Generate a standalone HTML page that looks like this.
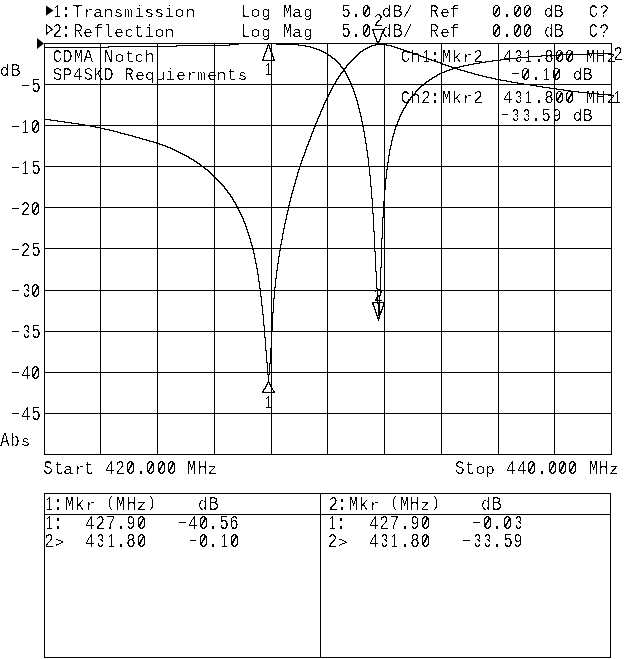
<!DOCTYPE html>
<html><head><meta charset="utf-8"><title>CDMA Notch - Transmission / Reflection</title>
<style>
html,body{margin:0;padding:0;background:#fff;width:640px;height:659px;overflow:hidden}
svg{display:block}
text{font-family:"Liberation Mono",monospace;fill:#000;white-space:pre;stroke:#000;stroke-width:0.1px}
</style></head><body>
<svg width="640" height="659" viewBox="0 0 640 659">
<defs><filter id="crisp" x="0" y="0" width="640" height="659" filterUnits="userSpaceOnUse" color-interpolation-filters="sRGB"><feColorMatrix type="matrix" values="0 0 0 0 0  0 0 0 0 0  0 0 0 0 0  -1 0 0 1 0"/><feComponentTransfer><feFuncA type="discrete" tableValues="0 0 0 0 0 0 0 0 0 0 0 0 0 1 1 1 1 1 1 1"/></feComponentTransfer></filter></defs>
<rect width="640" height="659" fill="#fff"/>
<path d="M44.5 43V455M100.5 43V455M157.5 43V455M214.5 43V455M271.5 43V455M327.5 43V455M384.5 43V455M441.5 43V455M498.5 43V455M554.5 43V455M611.5 43V455M44 43.5H612M44 84.5H612M44 125.5H612M44 166.5H612M44 207.5H612M44 248.5H612M44 290.5H612M44 331.5H612M44 372.5H612M44 413.5H612M44 454.5H612M44 493.5H611M44 514.5H611M44 657.5H611M44.5 493V658M610.5 493V658M320.5 493V658" stroke="#000" stroke-width="1" fill="none" shape-rendering="crispEdges"/>
<path d="M238 43h39v1h-39zM229 44h10v1h-10zM276 44h23v1h-23zM375 44h12v1h-12zM176 45h54v1h-54zM298 45h8v1h-8zM371 45h5v1h-5zM386 45h6v1h-6zM108 46h69v1h-69zM305 46h6v1h-6zM369 46h3v1h-3zM391 46h4v1h-4zM44 47h65v1h-65zM310 47h4v1h-4zM367 47h3v1h-3zM394 47h4v1h-4zM313 48h4v1h-4zM365 48h3v1h-3zM397 48h4v1h-4zM316 49h4v1h-4zM363 49h3v1h-3zM400 49h4v1h-4zM319 50h3v1h-3zM362 50h2v1h-2zM403 50h4v1h-4zM321 51h3v1h-3zM360 51h3v1h-3zM406 51h4v1h-4zM323 52h3v1h-3zM359 52h2v1h-2zM409 52h4v1h-4zM325 53h3v1h-3zM358 53h2v1h-2zM412 53h4v1h-4zM588 53h24v1h-24zM327 54h2v1h-2zM357 54h2v1h-2zM415 54h4v1h-4zM558 54h31v1h-31zM328 55h3v1h-3zM356 55h2v1h-2zM418 55h3v1h-3zM541 55h18v1h-18zM330 56h2v1h-2zM355 56h2v1h-2zM420 56h4v1h-4zM528 56h14v1h-14zM331 57h2v1h-2zM354 57h2v1h-2zM423 57h4v1h-4zM517 57h12v1h-12zM332 58h3v1h-3zM353 58h2v1h-2zM426 58h3v1h-3zM508 58h10v1h-10zM334 59h2v1h-2zM352 59h2v1h-2zM428 59h4v1h-4zM500 59h9v1h-9zM335 60h2v1h-2zM351 60h2v1h-2zM431 60h4v1h-4zM492 60h9v1h-9zM336 61h2v1h-2zM350 61h2v1h-2zM434 61h4v1h-4zM485 61h8v1h-8zM337 62h2v1h-2zM349 62h2v1h-2zM437 62h4v1h-4zM479 62h7v1h-7zM338 63h2v1h-2zM348 63h2v1h-2zM440 63h3v1h-3zM473 63h7v1h-7zM339 64h2v1h-2zM347 64h2v1h-2zM442 64h4v1h-4zM468 64h6v1h-6zM340 65h1v1h-1zM346 65h2v1h-2zM445 65h4v1h-4zM463 65h6v1h-6zM340 66h2v1h-2zM346 66h1v1h-1zM448 66h4v1h-4zM459 66h5v1h-5zM341 67h2v1h-2zM345 67h2v1h-2zM451 67h9v1h-9zM342 68h4v1h-4zM452 68h6v1h-6zM343 69h2v1h-2zM449 69h4v1h-4zM457 69h4v1h-4zM343 70h2v1h-2zM446 70h4v1h-4zM460 70h5v1h-5zM342 71h4v1h-4zM444 71h3v1h-3zM464 71h4v1h-4zM341 72h2v1h-2zM345 72h1v1h-1zM441 72h4v1h-4zM467 72h5v1h-5zM340 73h2v1h-2zM345 73h2v1h-2zM439 73h3v1h-3zM471 73h4v1h-4zM340 74h1v1h-1zM346 74h1v1h-1zM437 74h3v1h-3zM474 74h5v1h-5zM339 75h2v1h-2zM346 75h2v1h-2zM436 75h2v1h-2zM478 75h5v1h-5zM338 76h2v1h-2zM347 76h1v1h-1zM434 76h3v1h-3zM482 76h5v1h-5zM338 77h1v1h-1zM347 77h2v1h-2zM432 77h3v1h-3zM486 77h6v1h-6zM337 78h2v1h-2zM348 78h1v1h-1zM431 78h2v1h-2zM491 78h5v1h-5zM336 79h2v1h-2zM348 79h2v1h-2zM429 79h3v1h-3zM495 79h6v1h-6zM336 80h1v1h-1zM349 80h1v1h-1zM428 80h2v1h-2zM500 80h7v1h-7zM335 81h2v1h-2zM349 81h2v1h-2zM426 81h3v1h-3zM506 81h6v1h-6zM335 82h1v1h-1zM350 82h1v1h-1zM425 82h2v1h-2zM511 82h7v1h-7zM334 83h2v1h-2zM350 83h2v1h-2zM424 83h2v1h-2zM517 83h7v1h-7zM333 84h2v1h-2zM351 84h1v1h-1zM423 84h2v1h-2zM523 84h8v1h-8zM333 85h1v1h-1zM351 85h1v1h-1zM421 85h3v1h-3zM530 85h7v1h-7zM332 86h2v1h-2zM351 86h2v1h-2zM420 86h2v1h-2zM536 86h7v1h-7zM332 87h1v1h-1zM352 87h1v1h-1zM419 87h2v1h-2zM542 87h8v1h-8zM331 88h2v1h-2zM352 88h2v1h-2zM418 88h2v1h-2zM549 88h8v1h-8zM331 89h1v1h-1zM353 89h1v1h-1zM417 89h2v1h-2zM556 89h8v1h-8zM330 90h2v1h-2zM353 90h1v1h-1zM416 90h2v1h-2zM563 90h8v1h-8zM330 91h1v1h-1zM353 91h2v1h-2zM415 91h2v1h-2zM570 91h9v1h-9zM329 92h2v1h-2zM354 92h1v1h-1zM415 92h1v1h-1zM578 92h10v1h-10zM329 93h1v1h-1zM354 93h1v1h-1zM414 93h2v1h-2zM587 93h12v1h-12zM328 94h2v1h-2zM354 94h2v1h-2zM413 94h2v1h-2zM598 94h13v1h-13zM328 95h1v1h-1zM355 95h1v1h-1zM412 95h2v1h-2zM610 95h2v1h-2zM327 96h2v1h-2zM355 96h1v1h-1zM411 96h2v1h-2zM327 97h1v1h-1zM355 97h2v1h-2zM410 97h2v1h-2zM326 98h2v1h-2zM356 98h1v1h-1zM410 98h1v1h-1zM326 99h1v1h-1zM356 99h1v1h-1zM409 99h2v1h-2zM325 100h2v1h-2zM356 100h2v1h-2zM408 100h2v1h-2zM325 101h1v1h-1zM357 101h1v1h-1zM408 101h1v1h-1zM324 102h2v1h-2zM357 102h1v1h-1zM407 102h2v1h-2zM324 103h1v1h-1zM357 103h1v1h-1zM406 103h2v1h-2zM323 104h2v1h-2zM357 104h2v1h-2zM406 104h1v1h-1zM323 105h1v1h-1zM358 105h1v1h-1zM405 105h2v1h-2zM323 106h1v1h-1zM358 106h1v1h-1zM405 106h1v1h-1zM322 107h2v1h-2zM358 107h1v1h-1zM404 107h2v1h-2zM322 108h1v1h-1zM358 108h2v1h-2zM403 108h2v1h-2zM321 109h2v1h-2zM359 109h1v1h-1zM403 109h1v1h-1zM321 110h1v1h-1zM359 110h1v1h-1zM402 110h2v1h-2zM320 111h2v1h-2zM359 111h1v1h-1zM402 111h1v1h-1zM320 112h1v1h-1zM359 112h2v1h-2zM401 112h2v1h-2zM320 113h1v1h-1zM360 113h1v1h-1zM401 113h1v1h-1zM319 114h2v1h-2zM360 114h1v1h-1zM400 114h2v1h-2zM319 115h1v1h-1zM360 115h1v1h-1zM400 115h1v1h-1zM318 116h2v1h-2zM360 116h2v1h-2zM399 116h2v1h-2zM318 117h1v1h-1zM361 117h1v1h-1zM399 117h1v1h-1zM317 118h2v1h-2zM361 118h1v1h-1zM399 118h1v1h-1zM44 119h7v1h-7zM317 119h1v1h-1zM361 119h1v1h-1zM398 119h2v1h-2zM50 120h8v1h-8zM317 120h1v1h-1zM361 120h1v1h-1zM398 120h1v1h-1zM57 121h8v1h-8zM316 121h2v1h-2zM361 121h2v1h-2zM397 121h2v1h-2zM64 122h8v1h-8zM316 122h1v1h-1zM362 122h1v1h-1zM397 122h1v1h-1zM71 123h8v1h-8zM315 123h2v1h-2zM362 123h1v1h-1zM397 123h1v1h-1zM78 124h7v1h-7zM315 124h1v1h-1zM362 124h1v1h-1zM396 124h2v1h-2zM84 125h7v1h-7zM315 125h1v1h-1zM362 125h1v1h-1zM396 125h1v1h-1zM90 126h6v1h-6zM314 126h2v1h-2zM362 126h2v1h-2zM395 126h2v1h-2zM95 127h6v1h-6zM314 127h1v1h-1zM363 127h1v1h-1zM395 127h1v1h-1zM100 128h5v1h-5zM313 128h2v1h-2zM363 128h1v1h-1zM395 128h1v1h-1zM104 129h6v1h-6zM313 129h1v1h-1zM363 129h1v1h-1zM394 129h2v1h-2zM109 130h5v1h-5zM313 130h1v1h-1zM363 130h1v1h-1zM394 130h1v1h-1zM113 131h5v1h-5zM312 131h2v1h-2zM363 131h2v1h-2zM394 131h1v1h-1zM117 132h4v1h-4zM312 132h1v1h-1zM364 132h1v1h-1zM394 132h1v1h-1zM120 133h5v1h-5zM311 133h2v1h-2zM364 133h1v1h-1zM393 133h2v1h-2zM124 134h5v1h-5zM311 134h1v1h-1zM364 134h1v1h-1zM393 134h1v1h-1zM128 135h5v1h-5zM311 135h1v1h-1zM364 135h1v1h-1zM393 135h1v1h-1zM132 136h4v1h-4zM310 136h2v1h-2zM364 136h1v1h-1zM392 136h2v1h-2zM135 137h5v1h-5zM310 137h1v1h-1zM364 137h2v1h-2zM392 137h1v1h-1zM139 138h4v1h-4zM310 138h1v1h-1zM365 138h1v1h-1zM392 138h1v1h-1zM142 139h5v1h-5zM309 139h2v1h-2zM365 139h1v1h-1zM392 139h1v1h-1zM146 140h4v1h-4zM309 140h1v1h-1zM365 140h1v1h-1zM391 140h2v1h-2zM149 141h5v1h-5zM308 141h2v1h-2zM365 141h1v1h-1zM391 141h1v1h-1zM153 142h4v1h-4zM308 142h1v1h-1zM365 142h1v1h-1zM391 142h1v1h-1zM156 143h4v1h-4zM308 143h1v1h-1zM365 143h2v1h-2zM391 143h1v1h-1zM159 144h4v1h-4zM307 144h2v1h-2zM366 144h1v1h-1zM391 144h1v1h-1zM162 145h4v1h-4zM307 145h1v1h-1zM366 145h1v1h-1zM390 145h2v1h-2zM165 146h3v1h-3zM306 146h2v1h-2zM366 146h1v1h-1zM390 146h1v1h-1zM167 147h4v1h-4zM306 147h1v1h-1zM366 147h1v1h-1zM390 147h1v1h-1zM170 148h3v1h-3zM306 148h1v1h-1zM366 148h1v1h-1zM390 148h1v1h-1zM172 149h3v1h-3zM305 149h2v1h-2zM366 149h1v1h-1zM389 149h2v1h-2zM174 150h3v1h-3zM305 150h1v1h-1zM366 150h2v1h-2zM389 150h1v1h-1zM176 151h3v1h-3zM305 151h1v1h-1zM367 151h1v1h-1zM389 151h1v1h-1zM178 152h3v1h-3zM304 152h2v1h-2zM367 152h1v1h-1zM389 152h1v1h-1zM180 153h3v1h-3zM304 153h1v1h-1zM367 153h1v1h-1zM389 153h1v1h-1zM182 154h3v1h-3zM304 154h1v1h-1zM367 154h1v1h-1zM389 154h1v1h-1zM184 155h3v1h-3zM303 155h2v1h-2zM367 155h1v1h-1zM388 155h2v1h-2zM186 156h3v1h-3zM303 156h1v1h-1zM367 156h1v1h-1zM388 156h1v1h-1zM188 157h2v1h-2zM302 157h2v1h-2zM367 157h2v1h-2zM388 157h1v1h-1zM189 158h3v1h-3zM302 158h1v1h-1zM368 158h1v1h-1zM388 158h1v1h-1zM191 159h3v1h-3zM302 159h1v1h-1zM368 159h1v1h-1zM388 159h1v1h-1zM193 160h2v1h-2zM301 160h2v1h-2zM368 160h1v1h-1zM388 160h1v1h-1zM194 161h3v1h-3zM301 161h1v1h-1zM368 161h1v1h-1zM388 161h1v1h-1zM196 162h2v1h-2zM301 162h1v1h-1zM368 162h1v1h-1zM387 162h2v1h-2zM197 163h3v1h-3zM300 163h2v1h-2zM368 163h1v1h-1zM387 163h1v1h-1zM199 164h2v1h-2zM300 164h1v1h-1zM368 164h1v1h-1zM387 164h1v1h-1zM200 165h2v1h-2zM300 165h1v1h-1zM368 165h1v1h-1zM387 165h1v1h-1zM201 166h3v1h-3zM299 166h2v1h-2zM368 166h2v1h-2zM387 166h1v1h-1zM203 167h2v1h-2zM299 167h1v1h-1zM369 167h1v1h-1zM387 167h1v1h-1zM204 168h2v1h-2zM299 168h1v1h-1zM369 168h1v1h-1zM387 168h1v1h-1zM205 169h3v1h-3zM298 169h2v1h-2zM369 169h1v1h-1zM386 169h2v1h-2zM207 170h2v1h-2zM298 170h1v1h-1zM369 170h1v1h-1zM386 170h1v1h-1zM208 171h2v1h-2zM298 171h1v1h-1zM369 171h1v1h-1zM386 171h1v1h-1zM209 172h2v1h-2zM297 172h2v1h-2zM369 172h1v1h-1zM386 172h1v1h-1zM210 173h2v1h-2zM297 173h1v1h-1zM369 173h1v1h-1zM386 173h1v1h-1zM211 174h2v1h-2zM297 174h1v1h-1zM369 174h1v1h-1zM386 174h1v1h-1zM212 175h2v1h-2zM297 175h1v1h-1zM369 175h2v1h-2zM386 175h1v1h-1zM213 176h2v1h-2zM296 176h2v1h-2zM370 176h1v1h-1zM386 176h1v1h-1zM214 177h2v1h-2zM296 177h1v1h-1zM370 177h1v1h-1zM386 177h1v1h-1zM215 178h2v1h-2zM296 178h1v1h-1zM370 178h1v1h-1zM385 178h2v1h-2zM216 179h2v1h-2zM295 179h2v1h-2zM370 179h1v1h-1zM385 179h1v1h-1zM217 180h2v1h-2zM295 180h1v1h-1zM370 180h1v1h-1zM385 180h1v1h-1zM218 181h2v1h-2zM295 181h1v1h-1zM370 181h1v1h-1zM385 181h1v1h-1zM219 182h2v1h-2zM295 182h1v1h-1zM370 182h1v1h-1zM385 182h1v1h-1zM220 183h2v1h-2zM294 183h2v1h-2zM370 183h1v1h-1zM385 183h1v1h-1zM221 184h2v1h-2zM294 184h1v1h-1zM370 184h1v1h-1zM385 184h1v1h-1zM222 185h2v1h-2zM294 185h1v1h-1zM370 185h1v1h-1zM385 185h1v1h-1zM223 186h2v1h-2zM293 186h2v1h-2zM370 186h2v1h-2zM385 186h1v1h-1zM224 187h1v1h-1zM293 187h1v1h-1zM371 187h1v1h-1zM385 187h1v1h-1zM224 188h2v1h-2zM293 188h1v1h-1zM371 188h1v1h-1zM385 188h1v1h-1zM225 189h2v1h-2zM293 189h1v1h-1zM371 189h1v1h-1zM384 189h2v1h-2zM226 190h2v1h-2zM292 190h2v1h-2zM371 190h1v1h-1zM384 190h1v1h-1zM227 191h1v1h-1zM292 191h1v1h-1zM371 191h1v1h-1zM384 191h1v1h-1zM227 192h2v1h-2zM292 192h1v1h-1zM371 192h1v1h-1zM384 192h1v1h-1zM228 193h2v1h-2zM291 193h2v1h-2zM371 193h1v1h-1zM384 193h1v1h-1zM229 194h2v1h-2zM291 194h1v1h-1zM371 194h1v1h-1zM384 194h1v1h-1zM230 195h1v1h-1zM291 195h1v1h-1zM371 195h1v1h-1zM384 195h1v1h-1zM230 196h2v1h-2zM291 196h1v1h-1zM371 196h1v1h-1zM384 196h1v1h-1zM231 197h2v1h-2zM290 197h2v1h-2zM371 197h1v1h-1zM384 197h1v1h-1zM232 198h1v1h-1zM290 198h1v1h-1zM371 198h2v1h-2zM384 198h1v1h-1zM232 199h2v1h-2zM290 199h1v1h-1zM372 199h1v1h-1zM384 199h1v1h-1zM233 200h1v1h-1zM290 200h1v1h-1zM372 200h1v1h-1zM384 200h1v1h-1zM233 201h2v1h-2zM289 201h2v1h-2zM372 201h1v1h-1zM383 201h2v1h-2zM234 202h2v1h-2zM289 202h1v1h-1zM372 202h1v1h-1zM383 202h1v1h-1zM235 203h1v1h-1zM289 203h1v1h-1zM372 203h1v1h-1zM383 203h1v1h-1zM235 204h2v1h-2zM289 204h1v1h-1zM372 204h1v1h-1zM383 204h1v1h-1zM236 205h1v1h-1zM288 205h2v1h-2zM372 205h1v1h-1zM383 205h1v1h-1zM236 206h2v1h-2zM288 206h1v1h-1zM372 206h1v1h-1zM383 206h1v1h-1zM237 207h1v1h-1zM288 207h1v1h-1zM372 207h1v1h-1zM383 207h1v1h-1zM237 208h2v1h-2zM288 208h1v1h-1zM372 208h1v1h-1zM383 208h1v1h-1zM238 209h1v1h-1zM288 209h1v1h-1zM372 209h1v1h-1zM383 209h1v1h-1zM238 210h2v1h-2zM287 210h2v1h-2zM372 210h1v1h-1zM383 210h1v1h-1zM239 211h1v1h-1zM287 211h1v1h-1zM372 211h1v1h-1zM383 211h1v1h-1zM239 212h2v1h-2zM287 212h1v1h-1zM372 212h1v1h-1zM383 212h1v1h-1zM240 213h1v1h-1zM287 213h1v1h-1zM372 213h2v1h-2zM383 213h1v1h-1zM240 214h2v1h-2zM286 214h2v1h-2zM373 214h1v1h-1zM383 214h1v1h-1zM241 215h1v1h-1zM286 215h1v1h-1zM373 215h1v1h-1zM383 215h1v1h-1zM241 216h2v1h-2zM286 216h1v1h-1zM373 216h1v1h-1zM383 216h1v1h-1zM242 217h1v1h-1zM286 217h1v1h-1zM373 217h1v1h-1zM382 217h2v1h-2zM242 218h2v1h-2zM286 218h1v1h-1zM373 218h1v1h-1zM382 218h1v1h-1zM243 219h1v1h-1zM285 219h2v1h-2zM373 219h1v1h-1zM382 219h1v1h-1zM243 220h1v1h-1zM285 220h1v1h-1zM373 220h1v1h-1zM382 220h1v1h-1zM243 221h2v1h-2zM285 221h1v1h-1zM373 221h1v1h-1zM382 221h1v1h-1zM244 222h1v1h-1zM285 222h1v1h-1zM373 222h1v1h-1zM382 222h1v1h-1zM244 223h2v1h-2zM284 223h2v1h-2zM373 223h1v1h-1zM382 223h1v1h-1zM245 224h1v1h-1zM284 224h1v1h-1zM373 224h1v1h-1zM382 224h1v1h-1zM245 225h1v1h-1zM284 225h1v1h-1zM373 225h1v1h-1zM382 225h1v1h-1zM245 226h2v1h-2zM284 226h1v1h-1zM373 226h1v1h-1zM382 226h1v1h-1zM246 227h1v1h-1zM284 227h1v1h-1zM373 227h1v1h-1zM382 227h1v1h-1zM246 228h1v1h-1zM283 228h2v1h-2zM373 228h1v1h-1zM382 228h1v1h-1zM246 229h2v1h-2zM283 229h1v1h-1zM373 229h1v1h-1zM382 229h1v1h-1zM247 230h1v1h-1zM283 230h1v1h-1zM373 230h1v1h-1zM382 230h1v1h-1zM247 231h1v1h-1zM283 231h1v1h-1zM373 231h2v1h-2zM382 231h1v1h-1zM247 232h2v1h-2zM283 232h1v1h-1zM374 232h1v1h-1zM382 232h1v1h-1zM248 233h1v1h-1zM282 233h2v1h-2zM374 233h1v1h-1zM382 233h1v1h-1zM248 234h1v1h-1zM282 234h1v1h-1zM374 234h1v1h-1zM382 234h1v1h-1zM248 235h2v1h-2zM282 235h1v1h-1zM374 235h1v1h-1zM382 235h1v1h-1zM249 236h1v1h-1zM282 236h1v1h-1zM374 236h1v1h-1zM382 236h1v1h-1zM249 237h1v1h-1zM282 237h1v1h-1zM374 237h1v1h-1zM382 237h1v1h-1zM249 238h2v1h-2zM282 238h1v1h-1zM374 238h1v1h-1zM381 238h2v1h-2zM250 239h1v1h-1zM281 239h2v1h-2zM374 239h1v1h-1zM381 239h1v1h-1zM250 240h1v1h-1zM281 240h1v1h-1zM374 240h1v1h-1zM381 240h1v1h-1zM250 241h1v1h-1zM281 241h1v1h-1zM374 241h1v1h-1zM381 241h1v1h-1zM250 242h2v1h-2zM281 242h1v1h-1zM374 242h1v1h-1zM381 242h1v1h-1zM251 243h1v1h-1zM281 243h1v1h-1zM374 243h1v1h-1zM381 243h1v1h-1zM251 244h1v1h-1zM280 244h2v1h-2zM374 244h1v1h-1zM381 244h1v1h-1zM251 245h2v1h-2zM280 245h1v1h-1zM374 245h1v1h-1zM381 245h1v1h-1zM252 246h1v1h-1zM280 246h1v1h-1zM374 246h1v1h-1zM381 246h1v1h-1zM252 247h1v1h-1zM280 247h1v1h-1zM374 247h1v1h-1zM381 247h1v1h-1zM252 248h1v1h-1zM280 248h1v1h-1zM374 248h1v1h-1zM381 248h1v1h-1zM252 249h2v1h-2zM280 249h1v1h-1zM374 249h1v1h-1zM381 249h1v1h-1zM253 250h1v1h-1zM279 250h2v1h-2zM374 250h1v1h-1zM381 250h1v1h-1zM253 251h1v1h-1zM279 251h1v1h-1zM374 251h2v1h-2zM381 251h1v1h-1zM253 252h1v1h-1zM279 252h1v1h-1zM375 252h1v1h-1zM381 252h1v1h-1zM253 253h2v1h-2zM279 253h1v1h-1zM375 253h1v1h-1zM381 253h1v1h-1zM254 254h1v1h-1zM279 254h1v1h-1zM375 254h1v1h-1zM381 254h1v1h-1zM254 255h1v1h-1zM279 255h1v1h-1zM375 255h1v1h-1zM381 255h1v1h-1zM254 256h1v1h-1zM278 256h2v1h-2zM375 256h1v1h-1zM381 256h1v1h-1zM254 257h1v1h-1zM278 257h1v1h-1zM375 257h1v1h-1zM381 257h1v1h-1zM254 258h2v1h-2zM278 258h1v1h-1zM375 258h1v1h-1zM381 258h1v1h-1zM255 259h1v1h-1zM278 259h1v1h-1zM375 259h1v1h-1zM381 259h1v1h-1zM255 260h1v1h-1zM278 260h1v1h-1zM375 260h1v1h-1zM381 260h1v1h-1zM255 261h1v1h-1zM278 261h1v1h-1zM375 261h1v1h-1zM381 261h1v1h-1zM255 262h1v1h-1zM278 262h1v1h-1zM375 262h1v1h-1zM381 262h1v1h-1zM255 263h2v1h-2zM277 263h2v1h-2zM375 263h1v1h-1zM381 263h1v1h-1zM256 264h1v1h-1zM277 264h1v1h-1zM375 264h1v1h-1zM381 264h1v1h-1zM256 265h1v1h-1zM277 265h1v1h-1zM375 265h1v1h-1zM381 265h1v1h-1zM256 266h1v1h-1zM277 266h1v1h-1zM375 266h1v1h-1zM381 266h1v1h-1zM256 267h1v1h-1zM277 267h1v1h-1zM375 267h1v1h-1zM380 267h2v1h-2zM256 268h2v1h-2zM277 268h1v1h-1zM375 268h1v1h-1zM380 268h1v1h-1zM257 269h1v1h-1zM277 269h1v1h-1zM375 269h1v1h-1zM380 269h1v1h-1zM257 270h1v1h-1zM276 270h2v1h-2zM375 270h1v1h-1zM380 270h1v1h-1zM257 271h1v1h-1zM276 271h1v1h-1zM375 271h2v1h-2zM380 271h1v1h-1zM257 272h1v1h-1zM276 272h1v1h-1zM376 272h1v1h-1zM380 272h1v1h-1zM257 273h1v1h-1zM276 273h1v1h-1zM376 273h1v1h-1zM380 273h1v1h-1zM257 274h2v1h-2zM276 274h1v1h-1zM376 274h1v1h-1zM380 274h1v1h-1zM258 275h1v1h-1zM276 275h1v1h-1zM376 275h1v1h-1zM380 275h1v1h-1zM258 276h1v1h-1zM276 276h1v1h-1zM376 276h1v1h-1zM380 276h1v1h-1zM258 277h1v1h-1zM276 277h1v1h-1zM376 277h1v1h-1zM380 277h1v1h-1zM258 278h1v1h-1zM275 278h2v1h-2zM376 278h1v1h-1zM380 278h1v1h-1zM258 279h1v1h-1zM275 279h1v1h-1zM376 279h1v1h-1zM380 279h1v1h-1zM258 280h1v1h-1zM275 280h1v1h-1zM376 280h1v1h-1zM380 280h1v1h-1zM258 281h2v1h-2zM275 281h1v1h-1zM376 281h1v1h-1zM380 281h1v1h-1zM259 282h1v1h-1zM275 282h1v1h-1zM376 282h1v1h-1zM380 282h1v1h-1zM259 283h1v1h-1zM275 283h1v1h-1zM376 283h1v1h-1zM380 283h1v1h-1zM259 284h1v1h-1zM275 284h1v1h-1zM376 284h1v1h-1zM380 284h1v1h-1zM259 285h1v1h-1zM275 285h1v1h-1zM376 285h1v1h-1zM380 285h1v1h-1zM259 286h1v1h-1zM275 286h1v1h-1zM376 286h1v1h-1zM380 286h1v1h-1zM259 287h1v1h-1zM274 287h2v1h-2zM376 287h1v1h-1zM380 287h1v1h-1zM259 288h2v1h-2zM274 288h1v1h-1zM376 288h2v1h-2zM380 288h1v1h-1zM260 289h1v1h-1zM274 289h1v1h-1zM377 289h1v1h-1zM380 289h1v1h-1zM260 290h1v1h-1zM274 290h1v1h-1zM377 290h1v1h-1zM380 290h1v1h-1zM260 291h1v1h-1zM274 291h1v1h-1zM377 291h1v1h-1zM380 291h1v1h-1zM260 292h1v1h-1zM274 292h1v1h-1zM377 292h1v1h-1zM380 292h1v1h-1zM260 293h1v1h-1zM274 293h1v1h-1zM377 293h1v1h-1zM380 293h1v1h-1zM260 294h1v1h-1zM274 294h1v1h-1zM377 294h1v1h-1zM380 294h1v1h-1zM260 295h1v1h-1zM274 295h1v1h-1zM377 295h1v1h-1zM379 295h2v1h-2zM260 296h2v1h-2zM274 296h1v1h-1zM377 296h1v1h-1zM379 296h1v1h-1zM261 297h1v1h-1zM274 297h1v1h-1zM377 297h1v1h-1zM379 297h1v1h-1zM261 298h1v1h-1zM273 298h2v1h-2zM377 298h1v1h-1zM379 298h1v1h-1zM261 299h1v1h-1zM273 299h1v1h-1zM377 299h1v1h-1zM379 299h1v1h-1zM261 300h1v1h-1zM273 300h1v1h-1zM377 300h1v1h-1zM379 300h1v1h-1zM261 301h1v1h-1zM273 301h1v1h-1zM377 301h1v1h-1zM379 301h1v1h-1zM261 302h1v1h-1zM273 302h1v1h-1zM377 302h1v1h-1zM379 302h1v1h-1zM261 303h1v1h-1zM273 303h1v1h-1zM377 303h3v1h-3zM261 304h1v1h-1zM273 304h1v1h-1zM378 304h2v1h-2zM261 305h2v1h-2zM273 305h1v1h-1zM378 305h2v1h-2zM262 306h1v1h-1zM273 306h1v1h-1zM378 306h2v1h-2zM262 307h1v1h-1zM273 307h1v1h-1zM378 307h2v1h-2zM262 308h1v1h-1zM273 308h1v1h-1zM378 308h2v1h-2zM262 309h1v1h-1zM273 309h1v1h-1zM378 309h2v1h-2zM262 310h1v1h-1zM273 310h1v1h-1zM378 310h2v1h-2zM262 311h1v1h-1zM273 311h1v1h-1zM378 311h2v1h-2zM262 312h1v1h-1zM272 312h2v1h-2zM378 312h2v1h-2zM262 313h1v1h-1zM272 313h1v1h-1zM378 313h2v1h-2zM262 314h2v1h-2zM272 314h1v1h-1zM378 314h2v1h-2zM263 315h1v1h-1zM272 315h1v1h-1zM378 315h2v1h-2zM263 316h1v1h-1zM272 316h1v1h-1zM379 316h1v1h-1zM263 317h1v1h-1zM272 317h1v1h-1zM378 317h2v1h-2zM263 318h1v1h-1zM272 318h1v1h-1zM379 318h1v1h-1zM263 319h1v1h-1zM272 319h1v1h-1zM263 320h1v1h-1zM272 320h1v1h-1zM263 321h1v1h-1zM272 321h1v1h-1zM263 322h1v1h-1zM272 322h1v1h-1zM263 323h1v1h-1zM272 323h1v1h-1zM263 324h1v1h-1zM272 324h1v1h-1zM263 325h2v1h-2zM272 325h1v1h-1zM264 326h1v1h-1zM272 326h1v1h-1zM264 327h1v1h-1zM272 327h1v1h-1zM264 328h1v1h-1zM272 328h1v1h-1zM264 329h1v1h-1zM272 329h1v1h-1zM264 330h1v1h-1zM271 330h2v1h-2zM264 331h1v1h-1zM271 331h1v1h-1zM264 332h1v1h-1zM271 332h1v1h-1zM264 333h1v1h-1zM271 333h1v1h-1zM264 334h1v1h-1zM271 334h1v1h-1zM264 335h1v1h-1zM271 335h1v1h-1zM264 336h1v1h-1zM271 336h1v1h-1zM264 337h2v1h-2zM271 337h1v1h-1zM265 338h1v1h-1zM271 338h1v1h-1zM265 339h1v1h-1zM271 339h1v1h-1zM265 340h1v1h-1zM271 340h1v1h-1zM265 341h1v1h-1zM271 341h1v1h-1zM265 342h1v1h-1zM271 342h1v1h-1zM265 343h1v1h-1zM271 343h1v1h-1zM265 344h1v1h-1zM271 344h1v1h-1zM265 345h1v1h-1zM271 345h1v1h-1zM265 346h1v1h-1zM271 346h1v1h-1zM265 347h1v1h-1zM271 347h1v1h-1zM265 348h1v1h-1zM270 348h2v1h-2zM265 349h1v1h-1zM270 349h1v1h-1zM265 350h2v1h-2zM270 350h1v1h-1zM266 351h1v1h-1zM270 351h1v1h-1zM266 352h1v1h-1zM270 352h1v1h-1zM266 353h1v1h-1zM270 353h1v1h-1zM266 354h1v1h-1zM270 354h1v1h-1zM266 355h1v1h-1zM270 355h1v1h-1zM266 356h1v1h-1zM270 356h1v1h-1zM266 357h1v1h-1zM270 357h1v1h-1zM266 358h1v1h-1zM270 358h1v1h-1zM266 359h1v1h-1zM270 359h1v1h-1zM266 360h1v1h-1zM270 360h1v1h-1zM266 361h1v1h-1zM270 361h1v1h-1zM266 362h2v1h-2zM270 362h1v1h-1zM267 363h1v1h-1zM269 363h2v1h-2zM267 364h1v1h-1zM269 364h1v1h-1zM267 365h1v1h-1zM269 365h1v1h-1zM267 366h1v1h-1zM269 366h1v1h-1zM267 367h1v1h-1zM269 367h1v1h-1zM267 368h1v1h-1zM269 368h1v1h-1zM267 369h1v1h-1zM269 369h1v1h-1zM267 370h1v1h-1zM269 370h1v1h-1zM267 371h1v1h-1zM269 371h1v1h-1zM267 372h1v1h-1zM269 372h1v1h-1zM267 373h1v1h-1zM269 373h1v1h-1zM267 374h3v1h-3zM268 375h1v1h-1zM268 376h1v1h-1zM268 377h1v1h-1zM268 378h1v1h-1zM268 379h1v1h-1z" fill="#000" shape-rendering="crispEdges"/>
<path d="M268.5 44.5L262.5 60.5H274.5Z" stroke="#000" stroke-width="1.30" fill="none" shape-rendering="crispEdges"/>
<path d="M268.5 381.5L262.5 392.8H274.5Z" stroke="#000" stroke-width="1.30" fill="none" shape-rendering="crispEdges"/>
<path d="M378.1 44.0L372.5 29.6H383.7Z" stroke="#000" stroke-width="1.30" fill="none" shape-rendering="crispEdges"/>
<path d="M378.4 319.5L372.6 302.8H384.2Z" stroke="#000" stroke-width="1.30" fill="none" shape-rendering="crispEdges"/>
<path d="M46 5.5L53.5 10.6L46 15.8Z" fill="#000"/>
<path d="M46.5 24.6L52.2 29.3L46.5 34.0Z" stroke="#000" stroke-width="1.1" fill="none" shape-rendering="crispEdges"/>
<path d="M37 38L44 43.5L37 49Z" fill="#000"/>
<g filter="url(#crisp)">
<text><tspan x="53.96" y="17.00" font-size="18.218" lengthAdjust="spacingAndGlyphs" textLength="6.34">1</tspan><tspan x="61.21" y="17.00" font-size="18.218" lengthAdjust="spacingAndGlyphs" textLength="9.60">:</tspan><tspan x="72.71" y="17.00" font-size="18.218" lengthAdjust="spacingAndGlyphs" textLength="9.60">T</tspan><tspan x="83.50" y="17.00" font-size="15.142" lengthAdjust="spacingAndGlyphs" textLength="9.60">r</tspan><tspan x="93.08" y="17.00" font-size="15.142" lengthAdjust="spacingAndGlyphs" textLength="10.16">a</tspan><tspan x="103.09" y="17.00" font-size="15.142" lengthAdjust="spacingAndGlyphs" textLength="10.79">n</tspan><tspan x="113.80" y="17.00" font-size="15.142" lengthAdjust="spacingAndGlyphs" textLength="9.60">s</tspan><tspan x="124.17" y="17.00" font-size="15.142" lengthAdjust="spacingAndGlyphs" textLength="8.67">m</tspan><tspan x="134.39" y="17.00" font-size="16.561" lengthAdjust="spacingAndGlyphs" textLength="9.60">i</tspan><tspan x="144.40" y="17.00" font-size="15.142" lengthAdjust="spacingAndGlyphs" textLength="9.60">s</tspan><tspan x="154.60" y="17.00" font-size="15.142" lengthAdjust="spacingAndGlyphs" textLength="9.60">s</tspan><tspan x="164.39" y="17.00" font-size="16.561" lengthAdjust="spacingAndGlyphs" textLength="9.60">i</tspan><tspan x="174.30" y="17.00" font-size="15.142" lengthAdjust="spacingAndGlyphs" textLength="10.41">o</tspan><tspan x="185.09" y="17.00" font-size="15.142" lengthAdjust="spacingAndGlyphs" textLength="10.79">n</tspan></text>
<text><tspan x="52.60" y="37.00" font-size="19.736" lengthAdjust="spacingAndGlyphs" textLength="9.60">2</tspan><tspan x="61.21" y="37.00" font-size="19.736" lengthAdjust="spacingAndGlyphs" textLength="9.60">:</tspan><tspan x="73.54" y="37.00" font-size="19.736" lengthAdjust="spacingAndGlyphs" textLength="9.37">R</tspan><tspan x="83.23" y="37.00" font-size="15.142" lengthAdjust="spacingAndGlyphs" textLength="9.60">e</tspan><tspan x="93.68" y="37.00" font-size="17.941" lengthAdjust="spacingAndGlyphs" textLength="9.60">f</tspan><tspan x="103.46" y="37.00" font-size="17.941" lengthAdjust="spacingAndGlyphs" textLength="9.60">l</tspan><tspan x="114.23" y="37.00" font-size="15.142" lengthAdjust="spacingAndGlyphs" textLength="9.60">e</tspan><tspan x="124.48" y="37.00" font-size="15.142" lengthAdjust="spacingAndGlyphs" textLength="9.60">c</tspan><tspan x="134.00" y="37.00" font-size="17.941" lengthAdjust="spacingAndGlyphs" textLength="9.60">t</tspan><tspan x="144.39" y="37.00" font-size="17.941" lengthAdjust="spacingAndGlyphs" textLength="9.60">i</tspan><tspan x="154.30" y="37.00" font-size="15.142" lengthAdjust="spacingAndGlyphs" textLength="10.41">o</tspan><tspan x="164.09" y="37.00" font-size="15.142" lengthAdjust="spacingAndGlyphs" textLength="10.79">n</tspan></text>
<text><tspan x="240.91" y="17.00" font-size="18.218" lengthAdjust="spacingAndGlyphs" textLength="9.60">L</tspan><tspan x="250.30" y="17.00" font-size="15.142" lengthAdjust="spacingAndGlyphs" textLength="10.41">o</tspan><tspan x="261.34" y="17.00" font-size="15.142" lengthAdjust="spacingAndGlyphs" textLength="9.26">g</tspan> <tspan x="282.95" y="17.00" font-size="18.218" lengthAdjust="spacingAndGlyphs" textLength="9.11">M</tspan><tspan x="292.08" y="17.00" font-size="15.142" lengthAdjust="spacingAndGlyphs" textLength="10.16">a</tspan><tspan x="303.34" y="17.00" font-size="15.142" lengthAdjust="spacingAndGlyphs" textLength="9.26">g</tspan></text>
<text><tspan x="341.27" y="17.00" font-size="18.218" lengthAdjust="spacingAndGlyphs" textLength="9.60">5</tspan><tspan x="351.21" y="17.00" font-size="18.218" lengthAdjust="spacingAndGlyphs" textLength="9.60">.</tspan><tspan x="361.49" y="17.00" font-size="18.218" lengthAdjust="spacingAndGlyphs" textLength="10.05">0</tspan> <tspan x="382.06" y="17.00" font-size="16.561" lengthAdjust="spacingAndGlyphs" textLength="9.60">d</tspan><tspan x="392.26" y="17.00" font-size="18.218" lengthAdjust="spacingAndGlyphs" textLength="10.72">B</tspan><tspan x="402.90" y="17.00" font-size="16.351" lengthAdjust="spacingAndGlyphs" textLength="9.60">/</tspan></text>
<text><tspan x="429.54" y="17.00" font-size="18.218" lengthAdjust="spacingAndGlyphs" textLength="9.37">R</tspan><tspan x="440.23" y="17.00" font-size="15.142" lengthAdjust="spacingAndGlyphs" textLength="9.60">e</tspan><tspan x="449.68" y="17.00" font-size="16.561" lengthAdjust="spacingAndGlyphs" textLength="9.60">f</tspan></text>
<text><tspan x="491.49" y="17.00" font-size="18.218" lengthAdjust="spacingAndGlyphs" textLength="10.05">0</tspan><tspan x="502.21" y="17.00" font-size="18.218" lengthAdjust="spacingAndGlyphs" textLength="9.60">.</tspan><tspan x="512.49" y="17.00" font-size="18.218" lengthAdjust="spacingAndGlyphs" textLength="10.05">0</tspan><tspan x="522.49" y="17.00" font-size="18.218" lengthAdjust="spacingAndGlyphs" textLength="10.05">0</tspan> <tspan x="544.06" y="17.00" font-size="16.561" lengthAdjust="spacingAndGlyphs" textLength="9.60">d</tspan><tspan x="553.26" y="17.00" font-size="18.218" lengthAdjust="spacingAndGlyphs" textLength="10.72">B</tspan></text>
<text><tspan x="588.55" y="17.00" font-size="18.218" lengthAdjust="spacingAndGlyphs" textLength="9.60">C</tspan><tspan x="599.40" y="17.00" font-size="18.218" lengthAdjust="spacingAndGlyphs" textLength="9.60">?</tspan></text>
<text><tspan x="240.91" y="37.00" font-size="19.736" lengthAdjust="spacingAndGlyphs" textLength="9.60">L</tspan><tspan x="250.30" y="37.00" font-size="15.142" lengthAdjust="spacingAndGlyphs" textLength="10.41">o</tspan><tspan x="261.34" y="37.00" font-size="15.142" lengthAdjust="spacingAndGlyphs" textLength="9.26">g</tspan> <tspan x="282.95" y="37.00" font-size="19.736" lengthAdjust="spacingAndGlyphs" textLength="9.11">M</tspan><tspan x="292.08" y="37.00" font-size="15.142" lengthAdjust="spacingAndGlyphs" textLength="10.16">a</tspan><tspan x="303.34" y="37.00" font-size="15.142" lengthAdjust="spacingAndGlyphs" textLength="9.26">g</tspan></text>
<text><tspan x="341.27" y="37.00" font-size="19.736" lengthAdjust="spacingAndGlyphs" textLength="9.60">5</tspan><tspan x="351.21" y="37.00" font-size="19.736" lengthAdjust="spacingAndGlyphs" textLength="9.60">.</tspan><tspan x="361.49" y="37.00" font-size="19.736" lengthAdjust="spacingAndGlyphs" textLength="10.05">0</tspan> <tspan x="382.06" y="37.00" font-size="17.941" lengthAdjust="spacingAndGlyphs" textLength="9.60">d</tspan><tspan x="392.26" y="37.00" font-size="19.736" lengthAdjust="spacingAndGlyphs" textLength="10.72">B</tspan><tspan x="402.90" y="37.00" font-size="17.714" lengthAdjust="spacingAndGlyphs" textLength="9.60">/</tspan></text>
<text><tspan x="429.54" y="37.00" font-size="19.736" lengthAdjust="spacingAndGlyphs" textLength="9.37">R</tspan><tspan x="440.23" y="37.00" font-size="15.142" lengthAdjust="spacingAndGlyphs" textLength="9.60">e</tspan><tspan x="449.68" y="37.00" font-size="17.941" lengthAdjust="spacingAndGlyphs" textLength="9.60">f</tspan></text>
<text><tspan x="491.49" y="37.00" font-size="19.736" lengthAdjust="spacingAndGlyphs" textLength="10.05">0</tspan><tspan x="502.21" y="37.00" font-size="19.736" lengthAdjust="spacingAndGlyphs" textLength="9.60">.</tspan><tspan x="512.49" y="37.00" font-size="19.736" lengthAdjust="spacingAndGlyphs" textLength="10.05">0</tspan><tspan x="522.49" y="37.00" font-size="19.736" lengthAdjust="spacingAndGlyphs" textLength="10.05">0</tspan> <tspan x="544.06" y="37.00" font-size="17.941" lengthAdjust="spacingAndGlyphs" textLength="9.60">d</tspan><tspan x="553.26" y="37.00" font-size="19.736" lengthAdjust="spacingAndGlyphs" textLength="10.72">B</tspan></text>
<text><tspan x="588.55" y="37.00" font-size="19.736" lengthAdjust="spacingAndGlyphs" textLength="9.60">C</tspan><tspan x="599.40" y="37.00" font-size="19.736" lengthAdjust="spacingAndGlyphs" textLength="9.60">?</tspan></text>
<text><tspan x="52.55" y="62.00" font-size="18.218" lengthAdjust="spacingAndGlyphs" textLength="9.60">C</tspan><tspan x="62.39" y="62.00" font-size="18.218" lengthAdjust="spacingAndGlyphs" textLength="10.07">D</tspan><tspan x="73.95" y="62.00" font-size="18.218" lengthAdjust="spacingAndGlyphs" textLength="9.11">M</tspan><tspan x="83.51" y="62.00" font-size="18.218" lengthAdjust="spacingAndGlyphs" textLength="9.60">A</tspan> <tspan x="103.48" y="62.00" font-size="18.218" lengthAdjust="spacingAndGlyphs" textLength="10.06">N</tspan><tspan x="114.30" y="62.00" font-size="15.142" lengthAdjust="spacingAndGlyphs" textLength="10.41">o</tspan><tspan x="125.00" y="62.00" font-size="16.561" lengthAdjust="spacingAndGlyphs" textLength="9.60">t</tspan><tspan x="134.48" y="62.00" font-size="15.142" lengthAdjust="spacingAndGlyphs" textLength="9.60">c</tspan><tspan x="144.08" y="62.00" font-size="16.561" lengthAdjust="spacingAndGlyphs" textLength="10.80">h</tspan></text>
<text><tspan x="52.70" y="80.00" font-size="18.218" lengthAdjust="spacingAndGlyphs" textLength="9.60">S</tspan><tspan x="62.49" y="80.00" font-size="18.218" lengthAdjust="spacingAndGlyphs" textLength="9.60">P</tspan><tspan x="72.89" y="80.00" font-size="18.218" lengthAdjust="spacingAndGlyphs" textLength="9.60">4</tspan><tspan x="83.54" y="80.00" font-size="18.218" lengthAdjust="spacingAndGlyphs" textLength="9.60">S</tspan><tspan x="93.49" y="80.00" font-size="18.218" lengthAdjust="spacingAndGlyphs" textLength="9.60">K</tspan><tspan x="103.39" y="80.00" font-size="18.218" lengthAdjust="spacingAndGlyphs" textLength="10.07">D</tspan> <tspan x="124.54" y="80.00" font-size="18.218" lengthAdjust="spacingAndGlyphs" textLength="9.37">R</tspan><tspan x="135.23" y="80.00" font-size="15.142" lengthAdjust="spacingAndGlyphs" textLength="9.60">e</tspan><tspan x="145.06" y="80.00" font-size="15.142" lengthAdjust="spacingAndGlyphs" textLength="9.60">q</tspan><tspan x="155.09" y="80.00" font-size="15.142" lengthAdjust="spacingAndGlyphs" textLength="10.79">u</tspan><tspan x="165.39" y="80.00" font-size="16.561" lengthAdjust="spacingAndGlyphs" textLength="9.60">i</tspan><tspan x="176.23" y="80.00" font-size="15.142" lengthAdjust="spacingAndGlyphs" textLength="9.60">e</tspan><tspan x="186.50" y="80.00" font-size="15.142" lengthAdjust="spacingAndGlyphs" textLength="9.60">r</tspan><tspan x="197.17" y="80.00" font-size="15.142" lengthAdjust="spacingAndGlyphs" textLength="8.67">m</tspan><tspan x="207.23" y="80.00" font-size="15.142" lengthAdjust="spacingAndGlyphs" textLength="9.60">e</tspan><tspan x="216.09" y="80.00" font-size="15.142" lengthAdjust="spacingAndGlyphs" textLength="10.79">n</tspan><tspan x="227.00" y="80.00" font-size="16.561" lengthAdjust="spacingAndGlyphs" textLength="9.60">t</tspan><tspan x="237.74" y="80.00" font-size="15.142" lengthAdjust="spacingAndGlyphs" textLength="9.60">s</tspan></text>
<text><tspan x="400.55" y="62.00" font-size="18.218" lengthAdjust="spacingAndGlyphs" textLength="9.60">C</tspan><tspan x="410.08" y="62.00" font-size="16.561" lengthAdjust="spacingAndGlyphs" textLength="10.80">h</tspan><tspan x="422.96" y="62.00" font-size="18.218" lengthAdjust="spacingAndGlyphs" textLength="6.34">1</tspan><tspan x="430.21" y="62.00" font-size="18.218" lengthAdjust="spacingAndGlyphs" textLength="9.60">:</tspan><tspan x="441.95" y="62.00" font-size="18.218" lengthAdjust="spacingAndGlyphs" textLength="9.11">M</tspan><tspan x="451.96" y="62.00" font-size="16.561" lengthAdjust="spacingAndGlyphs" textLength="9.60">k</tspan><tspan x="462.50" y="62.00" font-size="15.142" lengthAdjust="spacingAndGlyphs" textLength="9.60">r</tspan><tspan x="473.21" y="62.00" font-size="18.218" lengthAdjust="spacingAndGlyphs" textLength="9.60">2</tspan></text>
<text><tspan x="400.55" y="103.00" font-size="18.218" lengthAdjust="spacingAndGlyphs" textLength="9.60">C</tspan><tspan x="410.08" y="103.00" font-size="16.561" lengthAdjust="spacingAndGlyphs" textLength="10.80">h</tspan><tspan x="421.06" y="103.00" font-size="18.218" lengthAdjust="spacingAndGlyphs" textLength="9.60">2</tspan><tspan x="430.21" y="103.00" font-size="18.218" lengthAdjust="spacingAndGlyphs" textLength="9.60">:</tspan><tspan x="441.95" y="103.00" font-size="18.218" lengthAdjust="spacingAndGlyphs" textLength="9.11">M</tspan><tspan x="451.96" y="103.00" font-size="16.561" lengthAdjust="spacingAndGlyphs" textLength="9.60">k</tspan><tspan x="462.50" y="103.00" font-size="15.142" lengthAdjust="spacingAndGlyphs" textLength="9.60">r</tspan><tspan x="473.21" y="103.00" font-size="18.218" lengthAdjust="spacingAndGlyphs" textLength="9.60">2</tspan></text>
<text><tspan x="502.89" y="62.00" font-size="18.218" lengthAdjust="spacingAndGlyphs" textLength="9.60">4</tspan><tspan x="514.74" y="62.00" font-size="18.218" lengthAdjust="spacingAndGlyphs" textLength="7.68">3</tspan><tspan x="524.96" y="62.00" font-size="18.218" lengthAdjust="spacingAndGlyphs" textLength="6.34">1</tspan><tspan x="534.21" y="62.00" font-size="18.218" lengthAdjust="spacingAndGlyphs" textLength="9.60">.</tspan><tspan x="544.24" y="62.00" font-size="18.218" lengthAdjust="spacingAndGlyphs" textLength="9.55">8</tspan><tspan x="554.49" y="62.00" font-size="18.218" lengthAdjust="spacingAndGlyphs" textLength="10.05">0</tspan><tspan x="564.49" y="62.00" font-size="18.218" lengthAdjust="spacingAndGlyphs" textLength="10.05">0</tspan> <tspan x="585.95" y="62.00" font-size="18.218" lengthAdjust="spacingAndGlyphs" textLength="9.11">M</tspan><tspan x="595.34" y="62.00" font-size="18.218" lengthAdjust="spacingAndGlyphs" textLength="10.34">H</tspan><tspan x="606.40" y="62.00" font-size="15.142" lengthAdjust="spacingAndGlyphs" textLength="9.60">z</tspan></text>
<text><tspan x="502.89" y="103.00" font-size="18.218" lengthAdjust="spacingAndGlyphs" textLength="9.60">4</tspan><tspan x="514.74" y="103.00" font-size="18.218" lengthAdjust="spacingAndGlyphs" textLength="7.68">3</tspan><tspan x="524.96" y="103.00" font-size="18.218" lengthAdjust="spacingAndGlyphs" textLength="6.34">1</tspan><tspan x="534.21" y="103.00" font-size="18.218" lengthAdjust="spacingAndGlyphs" textLength="9.60">.</tspan><tspan x="544.24" y="103.00" font-size="18.218" lengthAdjust="spacingAndGlyphs" textLength="9.55">8</tspan><tspan x="554.49" y="103.00" font-size="18.218" lengthAdjust="spacingAndGlyphs" textLength="10.05">0</tspan><tspan x="564.49" y="103.00" font-size="18.218" lengthAdjust="spacingAndGlyphs" textLength="10.05">0</tspan> <tspan x="585.95" y="103.00" font-size="18.218" lengthAdjust="spacingAndGlyphs" textLength="9.11">M</tspan><tspan x="595.34" y="103.00" font-size="18.218" lengthAdjust="spacingAndGlyphs" textLength="10.34">H</tspan><tspan x="606.40" y="103.00" font-size="15.142" lengthAdjust="spacingAndGlyphs" textLength="9.60">z</tspan></text>
<text><tspan x="507.81" y="79.00" font-size="18.500" lengthAdjust="spacingAndGlyphs" textLength="15.39">-</tspan><tspan x="520.49" y="80.00" font-size="18.218" lengthAdjust="spacingAndGlyphs" textLength="10.05">0</tspan><tspan x="531.21" y="80.00" font-size="18.218" lengthAdjust="spacingAndGlyphs" textLength="9.60">.</tspan><tspan x="542.96" y="80.00" font-size="18.218" lengthAdjust="spacingAndGlyphs" textLength="6.34">1</tspan><tspan x="551.49" y="80.00" font-size="18.218" lengthAdjust="spacingAndGlyphs" textLength="10.05">0</tspan> <tspan x="573.06" y="80.00" font-size="16.561" lengthAdjust="spacingAndGlyphs" textLength="9.60">d</tspan><tspan x="582.26" y="80.00" font-size="18.218" lengthAdjust="spacingAndGlyphs" textLength="10.72">B</tspan></text>
<text><tspan x="497.31" y="120.00" font-size="18.500" lengthAdjust="spacingAndGlyphs" textLength="15.39">-</tspan><tspan x="511.74" y="121.00" font-size="18.218" lengthAdjust="spacingAndGlyphs" textLength="7.68">3</tspan><tspan x="522.74" y="121.00" font-size="18.218" lengthAdjust="spacingAndGlyphs" textLength="7.68">3</tspan><tspan x="531.21" y="121.00" font-size="18.218" lengthAdjust="spacingAndGlyphs" textLength="9.60">.</tspan><tspan x="541.27" y="121.00" font-size="18.218" lengthAdjust="spacingAndGlyphs" textLength="9.60">5</tspan><tspan x="552.23" y="121.00" font-size="18.218" lengthAdjust="spacingAndGlyphs" textLength="9.46">9</tspan> <tspan x="573.06" y="121.00" font-size="16.561" lengthAdjust="spacingAndGlyphs" textLength="9.60">d</tspan><tspan x="582.26" y="121.00" font-size="18.218" lengthAdjust="spacingAndGlyphs" textLength="10.72">B</tspan></text>
<text><tspan x="0.06" y="76.00" font-size="16.561" lengthAdjust="spacingAndGlyphs" textLength="9.60">d</tspan><tspan x="10.26" y="76.00" font-size="18.218" lengthAdjust="spacingAndGlyphs" textLength="10.72">B</tspan></text>
<text><tspan x="17.91" y="91.00" font-size="18.500" lengthAdjust="spacingAndGlyphs" textLength="15.39">-</tspan><tspan x="31.27" y="92.00" font-size="19.736" lengthAdjust="spacingAndGlyphs" textLength="9.60">5</tspan></text>
<text><tspan x="7.81" y="132.00" font-size="18.500" lengthAdjust="spacingAndGlyphs" textLength="15.39">-</tspan><tspan x="21.96" y="133.00" font-size="19.736" lengthAdjust="spacingAndGlyphs" textLength="6.34">1</tspan><tspan x="30.49" y="133.00" font-size="19.736" lengthAdjust="spacingAndGlyphs" textLength="10.05">0</tspan></text>
<text><tspan x="7.81" y="173.00" font-size="18.500" lengthAdjust="spacingAndGlyphs" textLength="15.39">-</tspan><tspan x="21.96" y="174.00" font-size="19.736" lengthAdjust="spacingAndGlyphs" textLength="6.34">1</tspan><tspan x="31.27" y="174.00" font-size="19.736" lengthAdjust="spacingAndGlyphs" textLength="9.60">5</tspan></text>
<text><tspan x="7.81" y="214.00" font-size="18.500" lengthAdjust="spacingAndGlyphs" textLength="15.39">-</tspan><tspan x="20.80" y="215.00" font-size="19.736" lengthAdjust="spacingAndGlyphs" textLength="9.60">2</tspan><tspan x="30.49" y="215.00" font-size="19.736" lengthAdjust="spacingAndGlyphs" textLength="10.05">0</tspan></text>
<text><tspan x="7.81" y="255.00" font-size="18.500" lengthAdjust="spacingAndGlyphs" textLength="15.39">-</tspan><tspan x="20.80" y="256.00" font-size="19.736" lengthAdjust="spacingAndGlyphs" textLength="9.60">2</tspan><tspan x="31.27" y="256.00" font-size="19.736" lengthAdjust="spacingAndGlyphs" textLength="9.60">5</tspan></text>
<text><tspan x="7.81" y="296.00" font-size="18.500" lengthAdjust="spacingAndGlyphs" textLength="15.39">-</tspan><tspan x="22.74" y="297.00" font-size="19.736" lengthAdjust="spacingAndGlyphs" textLength="7.68">3</tspan><tspan x="30.49" y="297.00" font-size="19.736" lengthAdjust="spacingAndGlyphs" textLength="10.05">0</tspan></text>
<text><tspan x="7.81" y="337.00" font-size="18.500" lengthAdjust="spacingAndGlyphs" textLength="15.39">-</tspan><tspan x="22.74" y="338.00" font-size="19.736" lengthAdjust="spacingAndGlyphs" textLength="7.68">3</tspan><tspan x="31.27" y="338.00" font-size="19.736" lengthAdjust="spacingAndGlyphs" textLength="9.60">5</tspan></text>
<text><tspan x="7.81" y="378.00" font-size="18.500" lengthAdjust="spacingAndGlyphs" textLength="15.39">-</tspan><tspan x="20.89" y="379.00" font-size="19.736" lengthAdjust="spacingAndGlyphs" textLength="9.60">4</tspan><tspan x="30.49" y="379.00" font-size="19.736" lengthAdjust="spacingAndGlyphs" textLength="10.05">0</tspan></text>
<text><tspan x="7.81" y="419.00" font-size="18.500" lengthAdjust="spacingAndGlyphs" textLength="15.39">-</tspan><tspan x="20.89" y="420.00" font-size="19.736" lengthAdjust="spacingAndGlyphs" textLength="9.60">4</tspan><tspan x="31.27" y="420.00" font-size="19.736" lengthAdjust="spacingAndGlyphs" textLength="9.60">5</tspan></text>
<text><tspan x="0.10" y="446.00" font-size="19.736" lengthAdjust="spacingAndGlyphs" textLength="9.60">A</tspan><tspan x="10.36" y="446.00" font-size="17.941" lengthAdjust="spacingAndGlyphs" textLength="9.60">b</tspan><tspan x="20.70" y="446.00" font-size="15.142" lengthAdjust="spacingAndGlyphs" textLength="9.60">s</tspan></text>
<text><tspan x="43.30" y="474.00" font-size="19.736" lengthAdjust="spacingAndGlyphs" textLength="9.60">S</tspan><tspan x="54.00" y="474.00" font-size="17.941" lengthAdjust="spacingAndGlyphs" textLength="9.60">t</tspan><tspan x="63.08" y="474.00" font-size="15.142" lengthAdjust="spacingAndGlyphs" textLength="10.16">a</tspan><tspan x="74.50" y="474.00" font-size="15.142" lengthAdjust="spacingAndGlyphs" textLength="9.60">r</tspan><tspan x="84.00" y="474.00" font-size="17.941" lengthAdjust="spacingAndGlyphs" textLength="9.60">t</tspan> <tspan x="104.89" y="474.00" font-size="19.736" lengthAdjust="spacingAndGlyphs" textLength="9.60">4</tspan><tspan x="115.19" y="474.00" font-size="19.736" lengthAdjust="spacingAndGlyphs" textLength="9.60">2</tspan><tspan x="125.49" y="474.00" font-size="19.736" lengthAdjust="spacingAndGlyphs" textLength="10.05">0</tspan><tspan x="136.21" y="474.00" font-size="19.736" lengthAdjust="spacingAndGlyphs" textLength="9.60">.</tspan><tspan x="145.49" y="474.00" font-size="19.736" lengthAdjust="spacingAndGlyphs" textLength="10.05">0</tspan><tspan x="156.49" y="474.00" font-size="19.736" lengthAdjust="spacingAndGlyphs" textLength="10.05">0</tspan><tspan x="166.49" y="474.00" font-size="19.736" lengthAdjust="spacingAndGlyphs" textLength="10.05">0</tspan> <tspan x="186.95" y="474.00" font-size="19.736" lengthAdjust="spacingAndGlyphs" textLength="9.11">M</tspan><tspan x="197.34" y="474.00" font-size="19.736" lengthAdjust="spacingAndGlyphs" textLength="10.34">H</tspan><tspan x="207.62" y="474.00" font-size="15.142" lengthAdjust="spacingAndGlyphs" textLength="9.60">z</tspan></text>
<text><tspan x="454.95" y="474.00" font-size="19.736" lengthAdjust="spacingAndGlyphs" textLength="9.60">S</tspan><tspan x="465.00" y="474.00" font-size="17.941" lengthAdjust="spacingAndGlyphs" textLength="9.60">t</tspan><tspan x="475.30" y="474.00" font-size="15.142" lengthAdjust="spacingAndGlyphs" textLength="10.41">o</tspan><tspan x="485.35" y="474.00" font-size="15.142" lengthAdjust="spacingAndGlyphs" textLength="9.60">p</tspan> <tspan x="505.89" y="474.00" font-size="19.736" lengthAdjust="spacingAndGlyphs" textLength="9.60">4</tspan><tspan x="516.89" y="474.00" font-size="19.736" lengthAdjust="spacingAndGlyphs" textLength="9.60">4</tspan><tspan x="526.49" y="474.00" font-size="19.736" lengthAdjust="spacingAndGlyphs" textLength="10.05">0</tspan><tspan x="537.21" y="474.00" font-size="19.736" lengthAdjust="spacingAndGlyphs" textLength="9.60">.</tspan><tspan x="547.49" y="474.00" font-size="19.736" lengthAdjust="spacingAndGlyphs" textLength="10.05">0</tspan><tspan x="557.49" y="474.00" font-size="19.736" lengthAdjust="spacingAndGlyphs" textLength="10.05">0</tspan><tspan x="567.49" y="474.00" font-size="19.736" lengthAdjust="spacingAndGlyphs" textLength="10.05">0</tspan> <tspan x="588.95" y="474.00" font-size="19.736" lengthAdjust="spacingAndGlyphs" textLength="9.11">M</tspan><tspan x="598.34" y="474.00" font-size="19.736" lengthAdjust="spacingAndGlyphs" textLength="10.34">H</tspan><tspan x="609.00" y="474.00" font-size="15.142" lengthAdjust="spacingAndGlyphs" textLength="9.60">z</tspan></text>
<text><tspan x="264.96" y="75.00" font-size="18.218" lengthAdjust="spacingAndGlyphs" textLength="6.34">1</tspan></text>
<text><tspan x="264.96" y="408.00" font-size="18.218" lengthAdjust="spacingAndGlyphs" textLength="6.34">1</tspan></text>
<text><tspan x="373.40" y="26.00" font-size="18.218" lengthAdjust="spacingAndGlyphs" textLength="9.60">2</tspan></text>
<text><tspan x="373.60" y="301.00" font-size="18.218" lengthAdjust="spacingAndGlyphs" textLength="9.60">2</tspan></text>
<text><tspan x="613.20" y="60.00" font-size="19.736" lengthAdjust="spacingAndGlyphs" textLength="9.60">2</tspan></text>
<text><tspan x="613.96" y="103.00" font-size="18.218" lengthAdjust="spacingAndGlyphs" textLength="6.34">1</tspan></text>
<text><tspan x="45.96" y="510.00" font-size="19.736" lengthAdjust="spacingAndGlyphs" textLength="6.34">1</tspan><tspan x="53.21" y="510.00" font-size="19.736" lengthAdjust="spacingAndGlyphs" textLength="9.60">:</tspan><tspan x="64.95" y="510.00" font-size="19.736" lengthAdjust="spacingAndGlyphs" textLength="9.11">M</tspan><tspan x="74.96" y="510.00" font-size="17.941" lengthAdjust="spacingAndGlyphs" textLength="9.60">k</tspan><tspan x="85.50" y="510.00" font-size="15.142" lengthAdjust="spacingAndGlyphs" textLength="9.60">r</tspan> <tspan x="105.72" y="507.11" font-size="13.954" lengthAdjust="spacingAndGlyphs" textLength="9.60">(</tspan><tspan x="115.95" y="510.00" font-size="19.736" lengthAdjust="spacingAndGlyphs" textLength="9.11">M</tspan><tspan x="126.34" y="510.00" font-size="19.736" lengthAdjust="spacingAndGlyphs" textLength="10.34">H</tspan><tspan x="136.65" y="510.00" font-size="15.142" lengthAdjust="spacingAndGlyphs" textLength="9.60">z</tspan><tspan x="146.70" y="507.11" font-size="13.954" lengthAdjust="spacingAndGlyphs" textLength="9.60">)</tspan>    <tspan x="198.06" y="510.00" font-size="17.941" lengthAdjust="spacingAndGlyphs" textLength="9.60">d</tspan><tspan x="208.26" y="510.00" font-size="19.736" lengthAdjust="spacingAndGlyphs" textLength="10.72">B</tspan></text>
<text><tspan x="45.96" y="529.00" font-size="19.736" lengthAdjust="spacingAndGlyphs" textLength="6.34">1</tspan><tspan x="53.21" y="529.00" font-size="19.736" lengthAdjust="spacingAndGlyphs" textLength="9.60">:</tspan>  <tspan x="84.89" y="529.00" font-size="19.736" lengthAdjust="spacingAndGlyphs" textLength="9.60">4</tspan><tspan x="95.60" y="529.00" font-size="19.736" lengthAdjust="spacingAndGlyphs" textLength="9.60">2</tspan><tspan x="105.88" y="529.00" font-size="19.736" lengthAdjust="spacingAndGlyphs" textLength="9.60">7</tspan><tspan x="116.21" y="529.00" font-size="19.736" lengthAdjust="spacingAndGlyphs" textLength="9.60">.</tspan><tspan x="126.23" y="529.00" font-size="19.736" lengthAdjust="spacingAndGlyphs" textLength="9.46">9</tspan><tspan x="136.49" y="529.00" font-size="19.736" lengthAdjust="spacingAndGlyphs" textLength="10.05">0</tspan>   <tspan x="174.95" y="528.00" font-size="18.500" lengthAdjust="spacingAndGlyphs" textLength="15.39">-</tspan><tspan x="187.89" y="529.00" font-size="19.736" lengthAdjust="spacingAndGlyphs" textLength="9.60">4</tspan><tspan x="198.49" y="529.00" font-size="19.736" lengthAdjust="spacingAndGlyphs" textLength="10.05">0</tspan><tspan x="208.21" y="529.00" font-size="19.736" lengthAdjust="spacingAndGlyphs" textLength="9.60">.</tspan><tspan x="219.27" y="529.00" font-size="19.736" lengthAdjust="spacingAndGlyphs" textLength="9.60">5</tspan><tspan x="229.24" y="529.00" font-size="19.736" lengthAdjust="spacingAndGlyphs" textLength="9.50">6</tspan></text>
<text><tspan x="44.20" y="547.00" font-size="19.736" lengthAdjust="spacingAndGlyphs" textLength="9.60">2</tspan><tspan x="54.48" y="547.00" font-size="15.142" lengthAdjust="spacingAndGlyphs" textLength="9.60">&gt;</tspan>  <tspan x="84.89" y="547.00" font-size="19.736" lengthAdjust="spacingAndGlyphs" textLength="9.60">4</tspan><tspan x="96.74" y="547.00" font-size="19.736" lengthAdjust="spacingAndGlyphs" textLength="7.68">3</tspan><tspan x="107.96" y="547.00" font-size="19.736" lengthAdjust="spacingAndGlyphs" textLength="6.34">1</tspan><tspan x="116.21" y="547.00" font-size="19.736" lengthAdjust="spacingAndGlyphs" textLength="9.60">.</tspan><tspan x="126.24" y="547.00" font-size="19.736" lengthAdjust="spacingAndGlyphs" textLength="9.55">8</tspan><tspan x="136.49" y="547.00" font-size="19.736" lengthAdjust="spacingAndGlyphs" textLength="10.05">0</tspan>    <tspan x="185.23" y="546.00" font-size="18.500" lengthAdjust="spacingAndGlyphs" textLength="15.39">-</tspan><tspan x="198.49" y="547.00" font-size="19.736" lengthAdjust="spacingAndGlyphs" textLength="10.05">0</tspan><tspan x="208.21" y="547.00" font-size="19.736" lengthAdjust="spacingAndGlyphs" textLength="9.60">.</tspan><tspan x="220.96" y="547.00" font-size="19.736" lengthAdjust="spacingAndGlyphs" textLength="6.34">1</tspan><tspan x="229.49" y="547.00" font-size="19.736" lengthAdjust="spacingAndGlyphs" textLength="10.05">0</tspan></text>
<text><tspan x="328.40" y="510.00" font-size="19.736" lengthAdjust="spacingAndGlyphs" textLength="9.60">2</tspan><tspan x="337.21" y="510.00" font-size="19.736" lengthAdjust="spacingAndGlyphs" textLength="9.60">:</tspan><tspan x="348.95" y="510.00" font-size="19.736" lengthAdjust="spacingAndGlyphs" textLength="9.11">M</tspan><tspan x="358.96" y="510.00" font-size="17.941" lengthAdjust="spacingAndGlyphs" textLength="9.60">k</tspan><tspan x="369.50" y="510.00" font-size="15.142" lengthAdjust="spacingAndGlyphs" textLength="9.60">r</tspan> <tspan x="389.72" y="507.11" font-size="13.954" lengthAdjust="spacingAndGlyphs" textLength="9.60">(</tspan><tspan x="399.95" y="510.00" font-size="19.736" lengthAdjust="spacingAndGlyphs" textLength="9.11">M</tspan><tspan x="409.34" y="510.00" font-size="19.736" lengthAdjust="spacingAndGlyphs" textLength="10.34">H</tspan><tspan x="420.20" y="510.00" font-size="15.142" lengthAdjust="spacingAndGlyphs" textLength="9.60">z</tspan><tspan x="430.70" y="507.11" font-size="13.954" lengthAdjust="spacingAndGlyphs" textLength="9.60">)</tspan>    <tspan x="481.06" y="510.00" font-size="17.941" lengthAdjust="spacingAndGlyphs" textLength="9.60">d</tspan><tspan x="491.26" y="510.00" font-size="19.736" lengthAdjust="spacingAndGlyphs" textLength="10.72">B</tspan></text>
<text><tspan x="328.96" y="529.00" font-size="19.736" lengthAdjust="spacingAndGlyphs" textLength="6.34">1</tspan><tspan x="336.21" y="529.00" font-size="19.736" lengthAdjust="spacingAndGlyphs" textLength="9.60">:</tspan>  <tspan x="368.89" y="529.00" font-size="19.736" lengthAdjust="spacingAndGlyphs" textLength="9.60">4</tspan><tspan x="379.30" y="529.00" font-size="19.736" lengthAdjust="spacingAndGlyphs" textLength="9.60">2</tspan><tspan x="389.60" y="529.00" font-size="19.736" lengthAdjust="spacingAndGlyphs" textLength="9.60">7</tspan><tspan x="400.21" y="529.00" font-size="19.736" lengthAdjust="spacingAndGlyphs" textLength="9.60">.</tspan><tspan x="410.23" y="529.00" font-size="19.736" lengthAdjust="spacingAndGlyphs" textLength="9.46">9</tspan><tspan x="420.49" y="529.00" font-size="19.736" lengthAdjust="spacingAndGlyphs" textLength="10.05">0</tspan>    <tspan x="469.11" y="528.00" font-size="18.500" lengthAdjust="spacingAndGlyphs" textLength="15.39">-</tspan><tspan x="482.49" y="529.00" font-size="19.736" lengthAdjust="spacingAndGlyphs" textLength="10.05">0</tspan><tspan x="492.21" y="529.00" font-size="19.736" lengthAdjust="spacingAndGlyphs" textLength="9.60">.</tspan><tspan x="502.49" y="529.00" font-size="19.736" lengthAdjust="spacingAndGlyphs" textLength="10.05">0</tspan><tspan x="514.74" y="529.00" font-size="19.736" lengthAdjust="spacingAndGlyphs" textLength="7.68">3</tspan></text>
<text><tspan x="327.80" y="547.00" font-size="19.736" lengthAdjust="spacingAndGlyphs" textLength="9.60">2</tspan><tspan x="338.10" y="547.00" font-size="15.142" lengthAdjust="spacingAndGlyphs" textLength="9.60">&gt;</tspan>  <tspan x="368.89" y="547.00" font-size="19.736" lengthAdjust="spacingAndGlyphs" textLength="9.60">4</tspan><tspan x="380.74" y="547.00" font-size="19.736" lengthAdjust="spacingAndGlyphs" textLength="7.68">3</tspan><tspan x="390.96" y="547.00" font-size="19.736" lengthAdjust="spacingAndGlyphs" textLength="6.34">1</tspan><tspan x="400.21" y="547.00" font-size="19.736" lengthAdjust="spacingAndGlyphs" textLength="9.60">.</tspan><tspan x="410.24" y="547.00" font-size="19.736" lengthAdjust="spacingAndGlyphs" textLength="9.55">8</tspan><tspan x="420.49" y="547.00" font-size="19.736" lengthAdjust="spacingAndGlyphs" textLength="10.05">0</tspan>   <tspan x="458.81" y="546.00" font-size="18.500" lengthAdjust="spacingAndGlyphs" textLength="15.39">-</tspan><tspan x="473.74" y="547.00" font-size="19.736" lengthAdjust="spacingAndGlyphs" textLength="7.68">3</tspan><tspan x="483.74" y="547.00" font-size="19.736" lengthAdjust="spacingAndGlyphs" textLength="7.68">3</tspan><tspan x="492.21" y="547.00" font-size="19.736" lengthAdjust="spacingAndGlyphs" textLength="9.60">.</tspan><tspan x="503.27" y="547.00" font-size="19.736" lengthAdjust="spacingAndGlyphs" textLength="9.60">5</tspan><tspan x="513.23" y="547.00" font-size="19.736" lengthAdjust="spacingAndGlyphs" textLength="9.46">9</tspan></text>
<path d="M365.00 9.29h2.6v3.4h-2.6zM495.30 9.29h2.6v3.4h-2.6zM516.06 9.29h2.6v3.4h-2.6zM526.44 9.29h2.6v3.4h-2.6zM365.00 28.79h2.6v3.4h-2.6zM495.30 28.79h2.6v3.4h-2.6zM516.06 28.79h2.6v3.4h-2.6zM526.44 28.79h2.6v3.4h-2.6zM558.15 54.29h2.6v3.4h-2.6zM568.50 54.29h2.6v3.4h-2.6zM558.15 95.29h2.6v3.4h-2.6zM568.50 95.29h2.6v3.4h-2.6zM524.55 72.29h2.6v3.4h-2.6zM555.60 72.29h2.6v3.4h-2.6zM34.40 124.79h2.6v3.4h-2.6zM34.40 206.79h2.6v3.4h-2.6zM34.40 288.79h2.6v3.4h-2.6zM34.40 370.79h2.6v3.4h-2.6zM128.96 465.79h2.6v3.4h-2.6zM149.50 465.79h2.6v3.4h-2.6zM159.77 465.79h2.6v3.4h-2.6zM170.04 465.79h2.6v3.4h-2.6zM530.34 465.79h2.6v3.4h-2.6zM550.88 465.79h2.6v3.4h-2.6zM561.15 465.79h2.6v3.4h-2.6zM571.42 465.79h2.6v3.4h-2.6zM140.22 520.79h2.6v3.4h-2.6zM201.90 520.79h2.6v3.4h-2.6zM140.22 538.79h2.6v3.4h-2.6zM201.90 538.79h2.6v3.4h-2.6zM232.74 538.79h2.6v3.4h-2.6zM424.00 520.79h2.6v3.4h-2.6zM485.80 520.79h2.6v3.4h-2.6zM506.40 520.79h2.6v3.4h-2.6zM424.00 538.79h2.6v3.4h-2.6z" fill="#fff"/>
<path d="M363.80 15.00L368.80 6.40M494.10 15.00L499.10 6.40M514.86 15.00L519.86 6.40M525.24 15.00L530.24 6.40M363.80 34.83L368.80 25.52M494.10 34.83L499.10 25.52M514.86 34.83L519.86 25.52M525.24 34.83L530.24 25.52M556.95 60.00L561.95 51.40M567.30 60.00L572.30 51.40M556.95 101.00L561.95 92.40M567.30 101.00L572.30 92.40M523.35 78.00L528.35 69.40M554.40 78.00L559.40 69.40M33.20 130.83L38.20 121.52M33.20 212.83L38.20 203.52M33.20 294.83L38.20 285.52M33.20 376.83L38.20 367.52M127.76 471.83L132.76 462.52M148.30 471.83L153.30 462.52M158.57 471.83L163.57 462.52M168.84 471.83L173.84 462.52M529.14 471.83L534.14 462.52M549.68 471.83L554.68 462.52M559.95 471.83L564.95 462.52M570.22 471.83L575.22 462.52M139.02 526.83L144.02 517.52M200.70 526.83L205.70 517.52M139.02 544.83L144.02 535.52M200.70 544.83L205.70 535.52M231.54 544.83L236.54 535.52M422.80 526.83L427.80 517.52M484.60 526.83L489.60 517.52M505.20 526.83L510.20 517.52M422.80 544.83L427.80 535.52" stroke="#000" stroke-width="1.9" fill="none"/>
</g>
</svg>
</body></html>
